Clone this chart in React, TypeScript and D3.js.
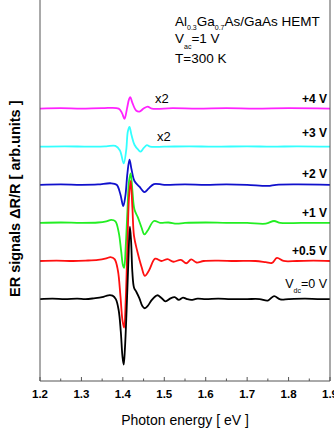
import React from "react";
import * as d3 from "d3";

// photon energy [eV], signal relative to its own baseline (arb. units)
const black0V: [number, number][] = [
  [1.2, 0], [1.23, 0.01], [1.26, 0], [1.29, 0.01], [1.31, 0], [1.33, 0.02], [1.35, 0.05], [1.365, 0.1],
  [1.375, 0.09], [1.383, 0.0], [1.39, -0.3], [1.395, -0.85], [1.399, -1.5], [1.402, -1.72], [1.405, -1.3],
  [1.409, -0.3], [1.413, 0.9], [1.417, 1.9], [1.42, 1.5], [1.423, 0.7], [1.427, 0.3], [1.433, 0.18],
  [1.44, 0.02], [1.447, -0.18], [1.453, -0.24], [1.46, -0.18], [1.47, -0.02], [1.483, 0.1], [1.493, 0.03],
  [1.503, -0.06], [1.515, 0.02], [1.525, 0.05], [1.535, -0.02], [1.545, 0.04], [1.555, 0.0], [1.565, -0.02],
  [1.58, 0.01], [1.6, 0], [1.63, 0.01], [1.66, 0], [1.7, 0.0], [1.73, 0.0], [1.75, -0.04], [1.765, 0.08],
  [1.78, -0.01], [1.8, 0], [1.84, 0.01], [1.87, 0], [1.9, 0],
];
const red05V: [number, number][] = [
  [1.2, 0], [1.24, 0.01], [1.28, 0], [1.31, 0.01], [1.34, 0.03], [1.36, 0.07], [1.37, 0.1], [1.38, 0.05],
  [1.388, -0.25], [1.394, -0.9], [1.399, -1.55], [1.403, -1.75], [1.407, -1.0], [1.411, 0.4], [1.415, 1.7],
  [1.419, 2.1], [1.423, 1.4], [1.427, 0.65], [1.435, 0.25], [1.445, -0.15], [1.453, -0.39], [1.463, -0.25],
  [1.478, 0.06], [1.493, 0.0], [1.508, 0.05], [1.522, -0.02], [1.54, 0.03], [1.553, -0.06], [1.565, 0.04],
  [1.578, -0.04], [1.595, 0.0], [1.63, 0.01], [1.67, 0], [1.72, 0.0], [1.745, -0.03], [1.76, -0.05],
  [1.772, 0.08], [1.788, 0.0], [1.82, 0], [1.86, 0.01], [1.9, 0],
];
const green1V: [number, number][] = [
  [1.2, 0], [1.25, 0.01], [1.3, 0], [1.34, 0.01], [1.36, 0.04], [1.372, 0.08], [1.382, 0.04], [1.39, -0.25],
  [1.396, -0.75], [1.4, -1.1], [1.403, -1.18], [1.407, -0.6], [1.411, 0.3], [1.415, 1.1], [1.419, 1.3],
  [1.423, 0.85], [1.428, 0.35], [1.436, 0.15], [1.445, -0.12], [1.452, -0.3], [1.46, -0.2], [1.475, 0.05],
  [1.49, 0.0], [1.51, 0.01], [1.53, -0.02], [1.55, 0.0], [1.6, 0.01], [1.65, 0], [1.7, 0.0], [1.745, -0.02],
  [1.765, 0.05], [1.78, 0.0], [1.83, 0], [1.9, 0],
];
const blue2V: [number, number][] = [
  [1.2, 0], [1.25, 0.01], [1.3, 0], [1.34, 0.01], [1.37, 0.04], [1.385, 0.0], [1.394, -0.25], [1.401, -0.56],
  [1.406, -0.3], [1.411, 0.3], [1.416, 0.66], [1.421, 0.4], [1.428, 0.1], [1.44, -0.05], [1.452, -0.19],
  [1.462, -0.1], [1.475, 0.02], [1.5, 0], [1.55, 0.01], [1.6, 0], [1.65, 0.01], [1.7, 0], [1.75, -0.03],
  [1.77, 0.0], [1.82, 0.01], [1.9, 0],
];
const cyan3V: [number, number][] = [
  [1.2, 0], [1.26, 0.01], [1.32, 0], [1.36, 0.01], [1.382, 0.02], [1.393, -0.1], [1.402, -0.44],
  [1.408, -0.1], [1.412, 0.4], [1.416, 0.52], [1.421, 0.3], [1.428, 0.05], [1.437, -0.08], [1.443, -0.13],
  [1.45, -0.04], [1.458, 0.04], [1.466, 0.0], [1.5, 0], [1.56, 0.01], [1.62, 0], [1.7, 0.01], [1.76, 0],
  [1.82, 0.01], [1.9, 0],
];
const magenta4V: [number, number][] = [
  [1.2, 0], [1.25, 0.01], [1.3, 0], [1.35, 0.01], [1.39, 0.0], [1.398, -0.12], [1.404, -0.27], [1.41, 0.0],
  [1.415, 0.25], [1.418, 0.3], [1.423, 0.15], [1.432, -0.05], [1.44, -0.08], [1.45, 0.0], [1.46, 0.05],
  [1.47, 0.0], [1.52, 0.01], [1.58, 0], [1.65, 0.01], [1.72, 0], [1.8, 0.01], [1.9, 0],
];

const seriesData = [magenta4V, cyan3V, blue2V, green1V, red05V, black0V];
const seriesOffsets = [5, 4, 3, 2, 1, 0];
const seriesLabels = ["+4 V", "+3 V", "+2 V", "+1 V", "+0.5 V", "=0 V"];
const seriesColors = ["#ff22ff", "#33ffff", "#1010cc", "#22ee22", "#ff1010", "#000000"];

const xTicks = [1.2, 1.3, 1.4, 1.5, 1.6, 1.7, 1.8, 1.9];
const xMinorTicks = [1.25, 1.35, 1.45, 1.55, 1.65, 1.75, 1.85];

const font = "'Liberation Sans', Arial, sans-serif";

export default function App() {
  const W = 334;
  const H = 431;
  const left = 40;
  const right = 330;
  const top = 0;
  const bottom = 381;

  const x = d3.scaleLinear().domain([1.2, 1.9]).range([left, right]);
  const y = d3.scaleLinear().domain([-2.15, 7.85]).range([bottom, top]);

  const line = d3
    .line<[number, number]>()
    .x((d) => x(d[0]))
    .y((d) => y(d[1]))
    .curve(d3.curveCatmullRom.alpha(0.5));

  const labelY = [103, 137, 178, 217, 255, 288];

  return (
    <svg
      width={W}
      height={H}
      style={{ position: "absolute", left: 0, top: 0, background: "#fff" }}
      fontFamily={font}
    >
      {seriesData.map((s, i) => (
        <path
          key={i}
          d={line(s.map((p) => [p[0], p[1] + seriesOffsets[i]] as [number, number])) || ""}
          fill="none"
          stroke={seriesColors[i]}
          strokeWidth={1.8}
          strokeLinejoin="round"
        />
      ))}

      {/* frame */}
      <line x1={left} x2={left} y1={top} y2={bottom} stroke="#555" strokeWidth={1} />
      <line x1={right} x2={right} y1={top} y2={bottom} stroke="#555" strokeWidth={1} />
      <line x1={left} x2={right} y1={bottom} y2={bottom} stroke="#555" strokeWidth={1} />

      {xTicks.map((t) => (
        <g key={t}>
          <line x1={x(t)} x2={x(t)} y1={bottom} y2={bottom - 4} stroke="#555" />
          <text x={x(t)} y={398} textAnchor="middle" fontSize={11.5} fontWeight="bold">
            {t.toFixed(1)}
          </text>
        </g>
      ))}
      {xMinorTicks.map((t) => (
        <line key={t} x1={x(t)} x2={x(t)} y1={bottom} y2={bottom - 2.5} stroke="#555" />
      ))}

      <text x={185} y={425} textAnchor="middle" fontSize={14}>
        Photon energy [ eV ]
      </text>
      <text
        transform="translate(20,297) rotate(-90)"
        fontSize={14.5}
        fontWeight="bold"
      >
        ER signals ΔR/R [ arb.units ]
      </text>

      {/* annotation */}
      <text x={175} y={26} fontSize={13.5}>
        Al<tspan fontSize={7} dy={4}>0.3</tspan>
        <tspan dy={-4}>Ga</tspan>
        <tspan fontSize={7} dy={4}>0.7</tspan>
        <tspan dy={-4}>As/GaAs HEMT</tspan>
      </text>
      <text x={175} y={43} fontSize={13.5}>
        V<tspan fontSize={7} dy={6}>ac</tspan>
        <tspan dy={-6}>=1 V</tspan>
      </text>
      <text x={175} y={63} fontSize={13.5}>
        T=300 K
      </text>

      <text x={155} y={103} fontSize={13}>x2</text>
      <text x={157} y={141} fontSize={13}>x2</text>

      {seriesLabels.map((l, i) =>
        i === 5 ? (
          <text key={i} x={327} y={labelY[i]} textAnchor="end" fontSize={12.5}>
            V<tspan fontSize={7} dy={5}>dc</tspan>
            <tspan dy={-5}>{l}</tspan>
          </text>
        ) : (
          <text key={i} x={327} y={labelY[i]} textAnchor="end" fontSize={12} fontWeight="bold">
            {l}
          </text>
        )
      )}
    </svg>
  );
}
